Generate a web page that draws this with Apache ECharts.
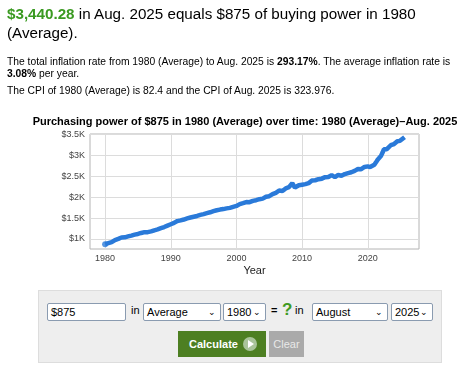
<!DOCTYPE html>
<html><head><meta charset="utf-8">
<script src="https://cdn.jsdelivr.net/npm/echarts@6/dist/echarts.min.js"></script>
<style>
html,body{margin:0;padding:0;background:#fff;width:468px;height:385px;overflow:hidden;font-family:"Liberation Sans",Arial,sans-serif;color:#000;}
#chart{position:absolute;left:0;top:0;width:468px;height:385px;}
.abs{position:absolute;white-space:nowrap;}
#h1{left:7px;top:4px;font-size:15.2px;line-height:19px;}
#h1 b{color:#3a9a21;}
.p{font-size:10.3px;left:7px;}
#form{position:absolute;left:38px;top:290px;width:404px;height:73px;background:#eee;border:1px solid #ddd;box-sizing:border-box;}
.inp{position:absolute;top:12px;height:18px;border:1px solid #8a9bb0;background:#fff;box-sizing:border-box;font-size:11px;line-height:16px;padding-left:3px;border-radius:2px;}
.inp .arr{position:absolute;right:4px;top:0;font-size:9px;}
.t{position:absolute;top:13px;font-size:11px;}
#calc{position:absolute;left:139px;top:40px;width:88px;height:26px;background:#4d7f22;color:#fff;font-weight:bold;font-size:11px;line-height:26px;box-sizing:border-box;padding-left:11px;}
#calc .c{position:absolute;left:65px;top:6px;width:14px;height:14px;border-radius:7px;background:#a9c49a;}
#calc .c i{position:absolute;left:5px;top:3px;width:0;height:0;border-left:6px solid #fff;border-top:4px solid transparent;border-bottom:4px solid transparent;}
#clear{position:absolute;left:230px;top:40px;width:35px;height:26px;background:#aaa;color:#e8e8e8;font-size:11px;line-height:26px;text-align:center;}
</style></head>
<body>
<div id="chart"></div>
<div class="abs" id="h1"><b>$3,440.28</b> in Aug. 2025 equals $875 of buying power in 1980<br>(Average).</div>
<div class="abs p" style="top:56px;line-height:12px;">The total inflation rate from 1980 (Average) to Aug. 2025 is <b>293.17%</b>. The average inflation rate is<br><b>3.08%</b> per year.</div>
<div class="abs p" style="top:85px;">The CPI of 1980 (Average) is 82.4 and the CPI of Aug. 2025 is 323.976.</div>
<div id="form">
  <div class="inp" style="left:8px;width:79px;">$875</div>
  <div class="t" style="left:92px;">in</div>
  <div class="inp" style="left:104px;width:78px;">Average<span class="arr">&#8964;</span></div>
  <div class="inp" style="left:184px;width:43px;">1980<span class="arr">&#8964;</span></div>
  <div class="t" style="left:232px;font-weight:bold;">=</div>
  <div class="t" style="left:243px;top:9px;font-size:17px;font-weight:bold;color:#3f9a23;">?</div>
  <div class="t" style="left:256px;">in</div>
  <div class="inp" style="left:273px;width:76px;">August<span class="arr">&#8964;</span></div>
  <div class="inp" style="left:352px;width:42px;">2025<span class="arr">&#8964;</span></div>
  <div id="calc">Calculate<span class="c"><i></i></span></div>
  <div id="clear">Clear</div>
</div>
<script>
// Time (decimal years) and purchasing-power values ($)
const years = [1980, 1981.0, 1981.5, 1982.0, 1982.5, 1983.0, 1983.5, 1984.0, 1984.5, 1985.0, 1985.5, 1986.0, 1986.5, 1987.0, 1987.5, 1988.0, 1988.5, 1989.0, 1989.5, 1990.0, 1990.5, 1991.0, 1991.5, 1992.0, 1992.5, 1993.0, 1993.5, 1994.0, 1994.5, 1995.0, 1995.5, 1996.0, 1996.5, 1997.0, 1997.5, 1998.0, 1998.5, 1999.0, 1999.5, 2000.0, 2000.5, 2001.0, 2001.5, 2002.0, 2002.5, 2003.0, 2003.5, 2004.0, 2004.5, 2005.0, 2005.5, 2005.7, 2006.0, 2006.5, 2006.8, 2007.0, 2007.5, 2008.0, 2008.5, 2008.9, 2009.0, 2009.5, 2010.0, 2010.5, 2011.0, 2011.5, 2012.0, 2012.5, 2013.0, 2013.5, 2014.0, 2014.5, 2015.0, 2015.5, 2016.0, 2016.5, 2017.0, 2017.5, 2018.0, 2018.5, 2019.0, 2019.5, 2020.0, 2020.35, 2020.5, 2021.0, 2021.25, 2021.5, 2021.75, 2022.0, 2022.25, 2022.45, 2022.9, 2023.0, 2023.5, 2024.0, 2024.5, 2024.9, 2025.0, 2025.6];
const values = [875, 924, 973, 1001, 1035, 1039, 1061, 1082, 1105, 1120, 1144, 1164, 1163, 1181, 1208, 1229, 1258, 1286, 1321, 1353, 1385, 1429, 1446, 1466, 1492, 1514, 1533, 1552, 1576, 1596, 1619, 1640, 1667, 1689, 1704, 1716, 1733, 1745, 1770, 1792, 1835, 1859, 1885, 1881, 1912, 1929, 1953, 1967, 2011, 2025, 2075, 2111, 2106, 2161, 2143, 2149, 2212, 2241, 2336, 2232, 2242, 2287, 2301, 2315, 2338, 2399, 2407, 2433, 2445, 2481, 2484, 2530, 2482, 2534, 2516, 2555, 2579, 2599, 2632, 2676, 2673, 2725, 2739, 2723, 2751, 2778, 2836, 2899, 2937, 2986, 3070, 3147, 3152, 3177, 3246, 3275, 3340, 3351, 3373, 3440];
const xTicks = [1980, 1990, 2000, 2010, 2020];
const yTicks = [1000, 1500, 2000, 2500, 3000, 3500];
const yTickLabels = ['$1K', '$1.5K', '$2K', '$2.5K', '$3K', '$3.5K'];
const titleText = 'Purchasing power of $875 in 1980 (Average) over time: 1980 (Average)\u2013Aug. 2025';

const chart = echarts.init(document.getElementById('chart'), null, {renderer: 'canvas'});
const gridColor = '#dcdcdc';
const gridLine = {color: gridColor, type: 'solid', width: 1};
const markData = xTicks.map(v => ({xAxis: v, lineStyle: gridLine}))
  .concat(yTicks.map(v => ({yAxis: v, lineStyle: gridLine})));
chart.setOption({
  animation: false,
  title: {text: titleText, left: 240, top: 111, textAlign: 'center',
    textStyle: {fontFamily: 'Liberation Sans', fontSize: 11, fontWeight: 'bold', color: '#000'}},
  grid: {left: 90, top: 134, width: 329, height: 115, show: true, borderColor: '#b4b4b4', borderWidth: 1, backgroundColor: 'transparent'},
  xAxis: {type: 'value', min: 1977.7, max: 2027.8,
    name: 'Year', nameLocation: 'middle', nameGap: 16,
    nameTextStyle: {fontFamily: 'Liberation Sans', fontSize: 11, color: '#222'},
    axisLine: {show: false}, axisTick: {show: false}, splitLine: {show: false},
    axisLabel: {customValues: xTicks, fontFamily: 'Liberation Sans', fontSize: 9, color: '#444', margin: 5,
      formatter: v => String(v)}},
  yAxis: {type: 'value', min: 760, max: 3515,
    axisLine: {show: false}, axisTick: {show: false}, splitLine: {show: false},
    axisLabel: {customValues: yTicks, fontFamily: 'Liberation Sans', fontSize: 9, color: '#444', margin: 5,
      formatter: v => yTickLabels[yTicks.indexOf(v)]}},
  series: [{
    type: 'line', data: years.map((y, i) => [y, values[i]]),
    showSymbol: false, lineStyle: {color: '#2a7ad9', width: 4.5}, z: 3,
    markLine: {silent: true, symbol: 'none', label: {show: false}, animation: false, data: markData, lineStyle: gridLine, z: 1}
  }, {
    type: 'scatter', data: [[years[0], values[0]]], symbolSize: 6,
    itemStyle: {color: '#2a7ad9'}, z: 4
  }]
});
</script>
</body></html>
